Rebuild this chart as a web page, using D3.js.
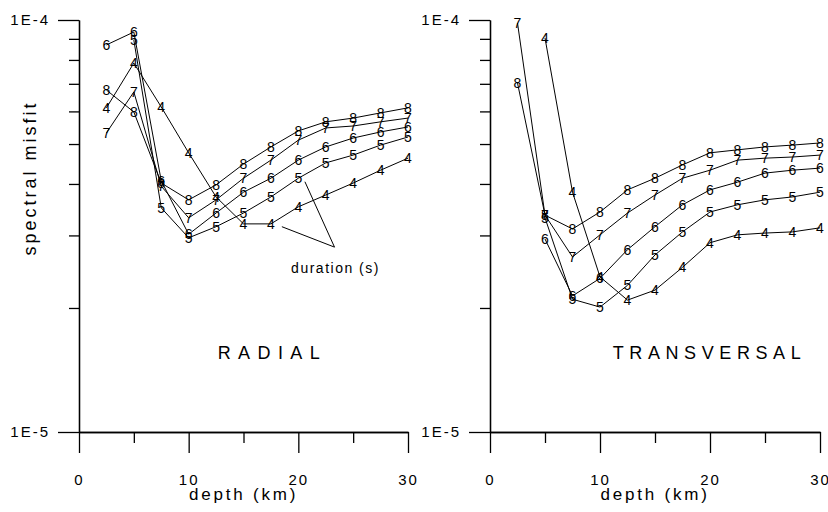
<!DOCTYPE html>
<html>
<head>
<meta charset="utf-8">
<script src="https://cdn.jsdelivr.net/npm/d3@7"></script>
<style>
  body { margin: 0; background: #fff; }
  svg { display: block; }
  text { font-family: "Liberation Sans", Arial, sans-serif; fill: #000; }
</style>
</head>
<body>
<svg id="chart" width="828" height="512"></svg>
<script>
const depths = [2.5, 5, 7.5, 10, 12.5, 15, 17.5, 20, 22.5, 25, 27.5, 30];
const durations = [4, 5, 6, 7, 8];

// misfit values, in units of 1E-5 (null = not computed)
const radial4 = [6.12, 7.86, 6.15, 4.76, 3.72, 3.20, 3.20, 3.52, 3.76, 4.02, 4.32, 4.62];
const radial5 = [null, 8.94, 3.50, 2.96, 3.15, 3.40, 3.72, 4.13, 4.50, 4.70, 4.97, 5.20];
const radial6 = [8.70, 9.35, 4.07, 3.02, 3.40, 3.82, 4.13, 4.57, 4.92, 5.17, 5.35, 5.50];
const radial7 = [5.32, 6.69, 3.95, 3.31, 3.66, 4.13, 4.57, 5.11, 5.47, 5.53, 5.66, 5.78];
const radial8 = [6.76, 5.98, 4.02, 3.66, 3.98, 4.47, 4.92, 5.38, 5.66, 5.78, 5.95, 6.12];

const trans4 = [null, 9.04, 3.82, 2.38, 2.09, 2.21, 2.51, 2.88, 3.01, 3.04, 3.06, 3.13];
const trans5 = [null, 3.31, 2.10, 2.01, 2.27, 2.69, 3.06, 3.42, 3.56, 3.66, 3.72, 3.82];
const trans6 = [null, 2.94, 2.14, 2.36, 2.77, 3.15, 3.56, 3.87, 4.04, 4.25, 4.32, 4.37];
const trans7 = [9.83, 3.36, 2.66, 3.01, 3.40, 3.76, 4.13, 4.32, 4.57, 4.62, 4.65, 4.70];
const trans8 = [7.03, 3.36, 3.11, 3.42, 3.87, 4.13, 4.45, 4.76, 4.84, 4.92, 4.97, 5.03];

const unit = 1e-5;
const xMajor = [0, 10, 20, 30];
const xMinor = [5, 15, 25];
const yMajor = [1e-5, 1e-4];
const yMajorLabels = ["1E-5", "1E-4"];
const yMinor = [2e-5, 3e-5, 4e-5, 5e-5, 6e-5, 7e-5, 8e-5, 9e-5];

// leader lines for the "duration (s)" note: [depth, misfit/1E-5]
const noteApex = [23.3, 2.81];
const noteTargets = [[18.5, 3.15], [20.6, 4.05]];

const svg = d3.select("#chart");
const y = d3.scaleLog().domain([1e-5, 1e-4]).range([432, 20]);

function styleAxis(g) {
  g.select(".domain").attr("stroke", "#000").attr("stroke-width", 1.3);
  g.selectAll(".tick line").attr("stroke", "#000").attr("stroke-width", 1.3);
  g.selectAll(".tick text")
    .attr("font-family", "Liberation Sans, Arial, sans-serif")
    .attr("font-size", 15)
    .attr("letter-spacing", 2)
    .attr("fill", "#000");
}

function drawPanel(x0, x1, series, title, titleDepth, titleLen) {
  const x = d3.scaleLinear().domain([0, 30]).range([x0, x1]);
  const g = svg.append("g");

  // y axis: minor ticks, then labelled decades
  g.append("g")
    .attr("transform", `translate(${x0},0)`)
    .call(d3.axisLeft(y).tickValues(yMinor).tickSize(10).tickSizeOuter(0).tickFormat(""))
    .call(styleAxis);
  g.append("g")
    .attr("transform", `translate(${x0},0)`)
    .call(d3.axisLeft(y).tickValues(yMajor).tickSize(21).tickSizeOuter(0).tickPadding(8)
      .tickFormat((d, i) => yMajorLabels[i]))
    .call(styleAxis);

  // x axis
  g.append("g")
    .attr("transform", `translate(0,${y(1e-5)})`)
    .call(d3.axisBottom(x).tickValues(xMinor).tickSize(11).tickSizeOuter(0).tickFormat(""))
    .call(styleAxis);
  g.append("g")
    .attr("transform", `translate(0,${y(1e-5)})`)
    .call(d3.axisBottom(x).tickValues(xMajor).tickSize(21).tickSizeOuter(0).tickPadding(21)
      .tickFormat(d3.format("d")))
    .call(styleAxis);

  g.append("text")
    .attr("x", (x0 + x1) / 2)
    .attr("y", 500)
    .attr("text-anchor", "middle")
    .attr("font-size", 17)
    .attr("letter-spacing", 2.8)
    .text("depth (km)");

  const line = d3.line()
    .defined(d => d.v != null)
    .x(d => x(d.depth))
    .y(d => y(d.v * unit));

  series.forEach(s => {
    const pts = depths.map((depth, i) => ({ depth, v: s.values[i] }));
    g.append("path")
      .datum(pts)
      .attr("fill", "none")
      .attr("stroke", "#000")
      .attr("stroke-width", 1)
      .attr("d", line);
  });

  // each point is marked by its duration number
  series.forEach(s => {
    const pts = depths.map((depth, i) => ({ depth, v: s.values[i] })).filter(d => d.v != null);
    g.selectAll(null)
      .data(pts)
      .join("text")
      .attr("x", d => x(d.depth))
      .attr("y", d => y(d.v * unit))
      .attr("dy", "0.36em")
      .attr("text-anchor", "middle")
      .attr("font-size", 14)
      .text(s.duration);
  });

  g.append("text")
    .attr("x", x(titleDepth))
    .attr("y", 359)
    .attr("text-anchor", "middle")
    .attr("font-size", 18)
    .attr("textLength", titleLen)
    .attr("lengthAdjust", "spacing")
    .text(title);

  return x;
}

const radialSeries = [radial4, radial5, radial6, radial7, radial8]
  .map((values, i) => ({ duration: durations[i], values }));
const transSeries = [trans4, trans5, trans6, trans7, trans8]
  .map((values, i) => ({ duration: durations[i], values }));

const xRad = drawPanel(79, 408, radialSeries, "RADIAL", 17.3, 102);
drawPanel(490, 820, transSeries, "TRANSVERSAL", 19.7, 188);

// y axis title
svg.append("text")
  .attr("transform", "translate(36,178) rotate(-90)")
  .attr("text-anchor", "middle")
  .attr("font-size", 18)
  .attr("letter-spacing", 3)
  .text("spectral misfit");

// duration note with leader lines
noteTargets.forEach(t => {
  svg.append("line")
    .attr("x1", xRad(noteApex[0])).attr("y1", y(noteApex[1] * unit))
    .attr("x2", xRad(t[0])).attr("y2", y(t[1] * unit))
    .attr("stroke", "#000").attr("stroke-width", 1);
});
svg.append("text")
  .attr("x", xRad(noteApex[0]) + 1)
  .attr("y", y(noteApex[1] * unit) + 26)
  .attr("text-anchor", "middle")
  .attr("font-size", 14)
  .attr("letter-spacing", 1.5)
  .text("duration (s)");
</script>
</body>
</html>
